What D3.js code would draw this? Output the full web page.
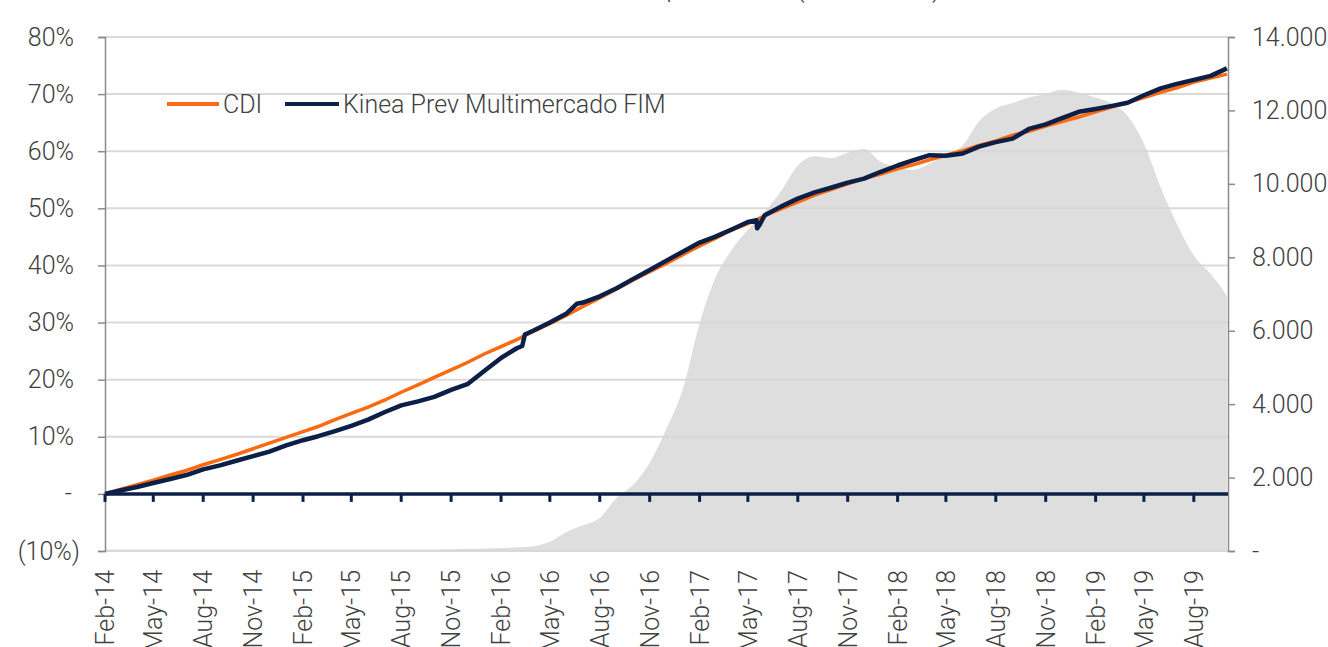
<!DOCTYPE html>
<html>
<head>
<meta charset="utf-8">
<script src="https://cdn.jsdelivr.net/npm/d3@7"></script>
<style>
  body { margin: 0; background: #fff; }
  text { font-family: Roboto, "Open Sans", sans-serif; font-weight: 300; fill: #404040; }
</style>
</head>
<body>
<div id="chart"></div>
<script>
//chart data
var xTickLabels = ["Feb-14","May-14","Aug-14","Nov-14","Feb-15","May-15","Aug-15","Nov-15",
  "Feb-16","May-16","Aug-16","Nov-16","Feb-17","May-17","Aug-17","Nov-17",
  "Feb-18","May-18","Aug-18","Nov-18","Feb-19","May-19","Aug-19"];

var leftTicks = [-10, 0, 10, 20, 30, 40, 50, 60, 70, 80];
var rightTicks = [0, 2000, 4000, 6000, 8000, 10000, 12000, 14000];

var seriesNames = ["CDI", "Kinea Prev Multimercado FIM"];

// monthly values, Feb-14 .. Oct-19 (accumulated %)
var cdiValues = [
  0.0, 0.8, 1.6, 2.4, 3.3, 4.1, 5.1, 6.0, 6.9, 7.9, 8.9, 9.9,
  10.9, 11.8, 13.0, 14.1, 15.2, 16.4, 17.8, 19.1, 20.4, 21.7, 23.0, 24.5,
  25.8, 27.0, 28.5, 29.8, 31.3, 32.8, 34.3, 35.9, 37.4, 38.9, 40.3, 41.9,
  43.4, 44.7, 46.2, 47.3, 48.7, 49.9, 51.1, 52.3, 53.3, 54.3, 55.2, 56.0,
  56.9, 57.6, 58.5, 59.3, 60.1, 61.0, 61.8, 62.8, 63.5, 64.4, 65.2, 66.0,
  66.9, 67.7, 68.5, 69.4, 70.3, 71.1, 72.1, 72.8, 73.5];

var fundValues = [
  0.0, 0.6, 1.2, 1.9, 2.6, 3.3, 4.3, 5.0, 5.8, 6.6, 7.4, 8.5,
  9.4, 10.1, 11.0, 11.9, 13.0, 14.3, 15.5, 16.2, 17.0, 18.2, 19.2, 21.5,
  23.8, 25.5, 28.6, 30.0, 31.6, 33.5, 34.6, 36.0, 37.6, 39.2, 40.8, 42.4,
  44.0, 45.0, 46.3, 47.6, 48.8, 50.3, 51.7, 52.8, 53.6, 54.5, 55.2, 56.4,
  57.5, 58.4, 59.3, 59.2, 59.6, 60.8, 61.6, 62.2, 63.9, 64.7, 65.8, 66.9,
  67.4, 67.9, 68.5, 69.8, 71.0, 71.8, 72.5, 73.2, 74.5];

// a few intra-month moves of the fund
var fundEventDates = ["2016-03-11", "2016-03-16", "2016-06-20", "2017-05-17", "2017-05-18", "2017-05-22"];
var fundEventValues = [25.9, 27.9, 33.3, 47.9, 46.5, 47.0];

// fund net assets (right axis)
var aumValues = [
  40, 40, 40, 40, 40, 40, 40, 40, 40, 40, 40, 40,
  40, 40, 40, 40, 40, 40, 40, 40, 40, 50, 60, 70,
  80, 100, 130, 250, 520, 700, 900, 1450, 1800, 2400, 3300, 4400,
  6200, 7400, 8200, 8750, 9250, 9800, 10500, 10750, 10700, 10850, 10950, 10600,
  10450, 10380, 10550, 10800, 11050, 11700, 12050, 12200, 12350, 12450, 12560, 12480,
  12350, 12200, 11850, 11100, 9900, 8900, 8050, 7550, 6950];

var colors = { cdi: "#fb6a10", fund: "#0b1f47", aum: "#dedede", grid: "#d6d6d6", axis: "#8a8a8a" };

var width = 1328, height = 647;
var plotLeft = 105, plotRight = 1228, plotTop = 37, plotBottom = 551;

var months = d3.timeMonth.range(new Date(2014, 1, 1), new Date(2019, 10, 1));
var parseTick = d3.timeParse("%b-%y");
var parseDay = d3.timeParse("%Y-%m-%d");

var cdiData = months.map((d, i) => ({date: d, value: cdiValues[i]}));
var fundData = months.map((d, i) => ({date: d, value: fundValues[i]}))
  .concat(fundEventDates.map((d, i) => ({date: parseDay(d), value: fundEventValues[i]})))
  .sort((a, b) => a.date - b.date);
var aumData = months.map((d, i) => ({date: d, value: aumValues[i]}));

var x = d3.scaleTime()
  .domain([new Date(2014, 1, 1), new Date(2019, 9, 3)])
  .range([plotLeft, plotRight]);

var yLeft = d3.scaleLinear().domain([-10, 80]).range([plotBottom, plotTop]);
var yRight = d3.scaleLinear().domain([0, 14000]).range([plotBottom, plotTop]);

var svg = d3.select("#chart").append("svg")
  .attr("width", width)
  .attr("height", height);

// title (mostly above the visible area)
svg.append("text")
  .attr("x", 640).attr("y", -3)
  .attr("text-anchor", "middle")
  .style("font-size", "26px")
  .style("fill", "#2e3a7a")
  .text("Rentabilidade acumulada vs patrimônio (R$ milhões)");

// net assets area
var area = d3.area()
  .x(d => x(d.date))
  .y0(yRight(0))
  .y1(d => yRight(d.value))
  .curve(d3.curveMonotoneX);

svg.append("path")
  .datum(aumData)
  .attr("d", area)
  .attr("fill", colors.aum);

// gridlines
svg.append("g")
  .selectAll("line")
  .data(leftTicks.filter(d => d !== 0))
  .enter().append("line")
  .attr("x1", plotLeft).attr("x2", plotRight)
  .attr("y1", d => yLeft(d)).attr("y2", d => yLeft(d))
  .attr("stroke", colors.grid)
  .attr("stroke-opacity", 0.9)
  .attr("stroke-width", 2);

// left axis
var leftAxis = d3.axisLeft(yLeft)
  .tickValues(leftTicks)
  .tickSize(7)
  .tickPadding(10)
  .tickFormat(d => d === 0 ? "-" : d < 0 ? "(" + Math.abs(d) + "%)" : d + "%");

var gLeft = svg.append("g")
  .attr("transform", "translate(" + plotLeft + ",0)")
  .call(leftAxis);
gLeft.select(".domain").attr("stroke", colors.axis).attr("stroke-width", 1.5);
gLeft.selectAll(".tick line").attr("stroke", colors.axis).attr("stroke-width", 1.5);
gLeft.selectAll(".tick text")
  .style("font-size", "25px")
  .attr("x", d => d < 0 ? -25 : d === 0 ? -33 : -31)
  .attr("fill", null);

// right axis
var rightAxis = d3.axisRight(yRight)
  .tickValues(rightTicks)
  .tickSize(7)
  .tickPadding(17)
  .tickFormat(d => d === 0 ? "-" : d3.format(",")(d).replace(",", "."));

var gRight = svg.append("g")
  .attr("transform", "translate(" + plotRight + ",0)")
  .call(rightAxis);
gRight.select(".domain").attr("stroke", colors.axis).attr("stroke-width", 1.5);
gRight.selectAll(".tick line").attr("stroke", colors.axis).attr("stroke-width", 1.5);
gRight.selectAll(".tick text")
  .style("font-size", "25px")
  .attr("fill", null);
svg.selectAll(".tick text").attr("font-family", null);

// zero axis with date ticks
svg.append("line")
  .attr("x1", plotLeft).attr("x2", plotRight)
  .attr("y1", yLeft(0)).attr("y2", yLeft(0))
  .attr("stroke", colors.fund)
  .attr("stroke-width", 3.5);

var tickDates = xTickLabels.map(parseTick);

svg.append("g")
  .selectAll("line")
  .data(tickDates)
  .enter().append("line")
  .attr("x1", d => x(d)).attr("x2", d => x(d))
  .attr("y1", yLeft(0)).attr("y2", yLeft(0) + 8)
  .attr("stroke", colors.fund)
  .attr("stroke-width", 3);

// x labels, rotated
svg.append("g")
  .selectAll("text")
  .data(tickDates)
  .enter().append("text")
  .attr("transform", d => "translate(" + x(d) + "," + 570 + ") rotate(-90)")
  .attr("text-anchor", "end")
  .attr("dy", "0.36em")
  .style("font-size", "25px")
  .text((d, i) => xTickLabels[i]);

// series lines
var line = d3.line()
  .x(d => x(d.date))
  .y(d => yLeft(d.value));

svg.append("path")
  .datum(cdiData)
  .attr("d", line)
  .attr("fill", "none")
  .attr("stroke", colors.cdi)
  .attr("stroke-width", 3.5);

svg.append("path")
  .datum(fundData)
  .attr("d", line)
  .attr("fill", "none")
  .attr("stroke", colors.fund)
  .attr("stroke-width", 4.5)
  .attr("stroke-linejoin", "round");

// legend
var legend = svg.append("g").attr("transform", "translate(167,104)");
var legendItems = [
  {name: seriesNames[0], color: colors.cdi, x: 0, w: 52},
  {name: seriesNames[1], color: colors.fund, x: 118, w: 54}
];

legendItems.forEach(function(item) {
  legend.append("line")
    .attr("x1", item.x).attr("x2", item.x + item.w)
    .attr("y1", 0).attr("y2", 0)
    .attr("stroke", item.color)
    .attr("stroke-width", 4);
  legend.append("text")
    .attr("x", item.x + item.w + 4)
    .attr("dy", "0.36em")
    .style("font-size", "25px")
    .text(item.name);
});
</script>
</body>
</html>
